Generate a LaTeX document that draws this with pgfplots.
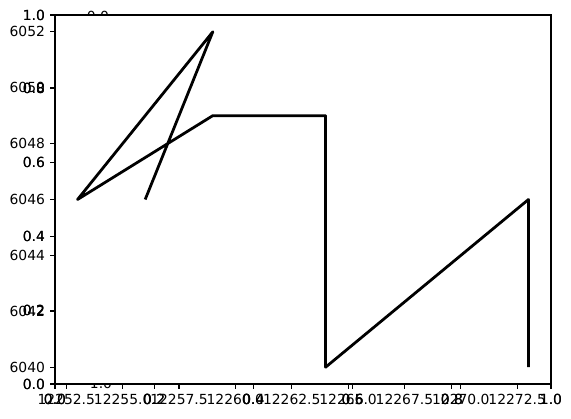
\documentclass[border=0pt]{standalone}
\usepackage{fontspec}
\setmainfont{DejaVu Sans}
\usepackage{pgfplots}
\pgfplotsset{compat=1.18}
\pgfplotsset{common/.style={
  scale only axis, width=357.12pt, height=265.68pt,
  at={(0pt,0pt)}, anchor=south west,
  tick align=outside, major tick length=3.5pt,
  every tick/.style={black, line width=0.8pt},
  axis line style={black, line width=0.8pt},
  tick label style={font=\fontsize{10}{12}\selectfont},
  /pgf/number format/assume math mode=true,
  xtick pos=bottom, ytick pos=left, minor tick num=0,
  scaled ticks=false,
  yticklabel style={inner sep=0pt, xshift=-3.5pt},
  xticklabel style={inner sep=0pt, yshift=-3.5pt},
}}
\begin{document}
\begin{tikzpicture}
\path[use as bounding box] (-39.6pt,-24.48pt) rectangle (371.52pt,276.48pt);
\node[font=\fontsize{10}{12}\selectfont, inner sep=0pt] at (30.96pt,264.6pt) {0.0};
\node[font=\fontsize{10}{12}\selectfont, inner sep=0pt] at (33.12pt,0.72pt) {1.0};
\begin{axis}[common, axis background/.style={fill=white},
  xmin=12252, xmax=12274, ymin=6039.4, ymax=6052.6,
  xtick={12252.5,12255,12257.5,12260,12262.5,12265,12267.5,12270,12272.5},
  ytick={6040,6042,6044,6046,6048,6050,6052},
  xticklabel style={/pgf/number format/.cd, fixed, fixed zerofill, precision=1, 1000 sep={}},
  yticklabel style={/pgf/number format/.cd, fixed, precision=0, 1000 sep={}}]
\addplot[black, line width=2pt, line join=round, mark=none] coordinates {
  (12256,6046) (12259,6052) (12253,6046) (12259,6049) (12264,6049)
  (12264,6040) (12273,6046) (12273,6040)};
\end{axis}
\begin{axis}[common, xmin=0, xmax=1, ymin=0, ymax=1,
  xtick={0,0.2,0.4,0.6,0.8,1}, ytick={0,0.2,0.4,0.6,0.8,1},
  xticklabel style={/pgf/number format/.cd, fixed, fixed zerofill, precision=1},
  yticklabel style={/pgf/number format/.cd, fixed, fixed zerofill, precision=1}]
\end{axis}
\begin{axis}[common, xmin=0, xmax=1, ymin=0, ymax=1,
  xtick={0,0.2,0.4,0.6,0.8,1}, ytick={0,0.2,0.4,0.6,0.8,1},
  xticklabel style={/pgf/number format/.cd, fixed, fixed zerofill, precision=1},
  yticklabel style={/pgf/number format/.cd, fixed, fixed zerofill, precision=1}]
\end{axis}
\end{tikzpicture}
\end{document}
